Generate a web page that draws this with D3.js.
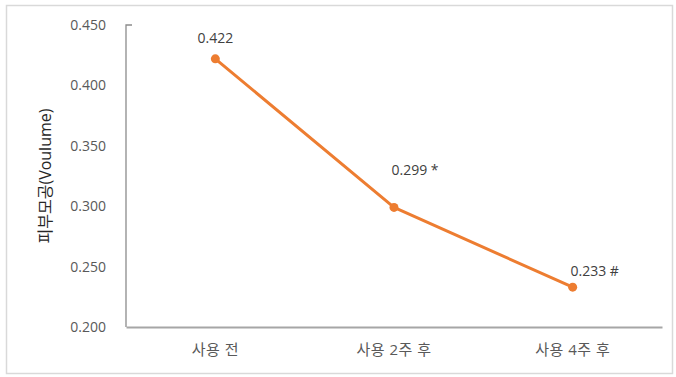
<!DOCTYPE html>
<html><head><meta charset="utf-8">
<script src="https://cdn.jsdelivr.net/npm/d3@7"></script>
<style>body{margin:0;background:#fff}svg{display:block}</style>
</head><body>
<script>
const categories = ["사용 전", "사용 2주 후", "사용 4주 후"];
const values = [0.422, 0.299, 0.233];
const pointLabels = ["0.422", "0.299 *", "0.233 #"];
const yTicks = [0.200, 0.250, 0.300, 0.350, 0.400, 0.450];
const yTitle = "피부모공(Voulume)";

const W = 676, H = 377;
const m = {left: 126, right: 14, top: 25, bottom: 50};
const FONT = "'Open Sans', 'Noto Sans CJK KR', sans-serif";
const svg = d3.select("body").append("svg").attr("width", W).attr("height", H)
  .style("font-family", FONT);

svg.append("rect").attr("x", 6.5).attr("y", 5.5).attr("width", 666).attr("height", 368)
  .attr("fill", "#fff").attr("stroke", "#d9d9d9").attr("stroke-width", 1.5);

const x = d3.scaleBand().domain(categories).range([m.left, W - m.right]);
const y = d3.scaleLinear().domain([0.2, 0.45]).range([H - m.bottom, m.top]);

// y axis
const yAx = svg.append("g").attr("transform", `translate(${m.left},0)`)
  .call(d3.axisLeft(y).tickValues(yTicks).tickFormat(d3.format(".3f")).tickSize(0).tickPadding(20));
yAx.select(".domain").remove();
yAx.selectAll("text").attr("fill", "#595959").style("font-size", "14px").style("font-family", FONT);
svg.append("path").attr("d", `M${m.left + 6},${y(0.45)}H${m.left}V${y(0.2)}`)
  .attr("fill", "none").attr("stroke", "#8c8c8c").attr("stroke-width", 1.3);

// x axis
const xAx = svg.append("g").attr("transform", `translate(0,${y(0.2)})`)
  .call(d3.axisBottom(x).tickSize(0).tickPadding(17));
xAx.select(".domain").attr("stroke", "#a6a6a6").attr("stroke-width", 2);
xAx.selectAll("text").attr("fill", "#595959").style("font-size", "15px")
  .style("letter-spacing", "0.5px").style("font-family", FONT);

// y title
svg.append("text").attr("transform", `translate(51,${(m.top + H - m.bottom) / 2}) rotate(-90)`)
  .attr("text-anchor", "middle").attr("fill", "#262626").style("font-size", "16px").text(yTitle);

const cx = d => x(d) + x.bandwidth() / 2;
const line = d3.line().x((d, i) => cx(categories[i])).y(d => y(d));
svg.append("path").datum(values).attr("d", line).attr("fill", "none")
  .attr("stroke", "#ED7D31").attr("stroke-width", 3).attr("stroke-linejoin", "round");
svg.selectAll(".pt").data(values).join("circle").attr("class", "pt")
  .attr("cx", (d, i) => cx(categories[i])).attr("cy", d => y(d)).attr("r", 4.5).attr("fill", "#ED7D31");

const offs = [[0, -16], [21, -32], [22, -11]];
svg.selectAll(".lbl").data(values).join("text").attr("class", "lbl")
  .attr("x", (d, i) => cx(categories[i]) + offs[i][0]).attr("y", (d, i) => y(d) + offs[i][1])
  .attr("text-anchor", "middle").attr("fill", "#404040").style("font-size", "14px")
  .text((d, i) => pointLabels[i]);
</script>
</body></html>
